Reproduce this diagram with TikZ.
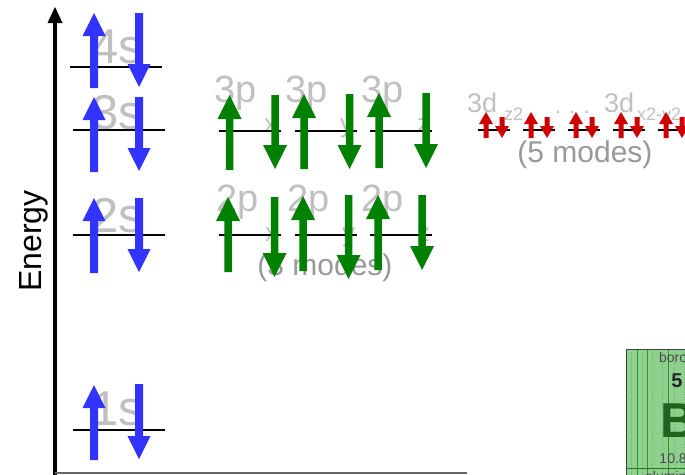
\documentclass[tikz,border=0pt]{standalone}
\usepackage{fontspec}
\setmainfont{Liberation Sans}
\definecolor{sblue}{RGB}{51,51,255}
\definecolor{sgreen}{RGB}{0,128,0}
\definecolor{sred}{RGB}{204,0,0}
\definecolor{lbl}{RGB}{192,192,192}
\definecolor{mdl}{RGB}{153,153,153}
\definecolor{cellbg}{RGB}{143,208,143}
\definecolor{celldk}{RGB}{45,150,45}
\definecolor{bgreen}{RGB}{30,100,30}
\newcommand\fs[1]{\fontsize{#1}{#1}\selectfont}
% #1 style, #2 x, #3 tail y, #4 tip y, #5 shaft w, #6 head w, #7 head len
\newcommand\arrUp[7]{\fill[#1] ({#2-#5/2},#3) -- ({#2-#5/2},{#4+#7}) -- ({#2-#6/2},{#4+#7}) -- (#2,#4) -- ({#2+#6/2},{#4+#7}) -- ({#2+#5/2},{#4+#7}) -- ({#2+#5/2},#3) -- cycle;}
\newcommand\arrDn[7]{\fill[#1] ({#2-#5/2},#3) -- ({#2-#5/2},{#4-#7}) -- ({#2-#6/2},{#4-#7}) -- (#2,#4) -- ({#2+#6/2},{#4-#7}) -- ({#2+#5/2},{#4-#7}) -- ({#2+#5/2},#3) -- cycle;}
\newcommand\bUp[3]{\arrUp{blueArr}{#1}{#2}{#3}{8}{23}{23}}
\newcommand\bDn[3]{\arrDn{blueArr}{#1}{#2}{#3}{8}{23}{23}}
\newcommand\gUp[3]{\arrUp{greenArr}{#1}{#2}{#3}{7.5}{24}{24}}
\newcommand\gDn[3]{\arrDn{greenArr}{#1}{#2}{#3}{7.5}{24}{24}}
\newcommand\rUp[3]{\arrUp{redArr}{#1}{#2}{#3}{5}{14}{12}}
\newcommand\rDn[3]{\arrDn{redArr}{#1}{#2}{#3}{5}{14}{12}}
\tikzset{
  blueArr/.style={fill=sblue},
  greenArr/.style={fill=sgreen},
  redArr/.style={fill=sred},
  levelline/.style={line width=2pt, black},
  slab/.style={text=lbl, inner sep=0pt, anchor=base west, font=\fs{49}},
  plab/.style={text=lbl, inner sep=0pt, anchor=base west, font=\fs{38}},
  psub/.style={text=lbl, inner sep=0pt, anchor=base west, font=\fs{26}},
  dlab/.style={text=lbl, inner sep=0pt, anchor=base west, font=\fs{27}},
  dsub/.style={text=lbl, inner sep=0pt, anchor=base west, font=\fs{18}},
  modes/.style={text=mdl, inner sep=0pt, anchor=base, font=\fs{30}},
  celltxt/.style={inner sep=0pt, anchor=base},
}
\begin{document}
\begin{tikzpicture}[x=1pt,y=-1pt]
\clip (0,0) rectangle (685,474);
\fill[white] (0,0) rectangle (685,474);
% periodic table cell fragment
\fill[cellbg] (626,349) rectangle (760,490);
\foreach \xx in {631,642,652,662,674,684}{
  \draw[celldk!70, line width=0.5pt, dotted] (\xx,349) -- (\xx,490);}
\foreach \xx in {637,647,668}{
  \draw[celldk, line width=0.6pt] (\xx,349) -- (\xx,490);}
\draw[celldk!80!black, line width=0.8pt] (626,468) -- (760,468);
\draw[black!75, line width=1pt] (626,490) -- (626,349) -- (760,349);
\node[celltxt, text=black!70, font=\fs{14}] (cname) at (677,362) {boron};
\node[celltxt, text=black!85, font=\bfseries\fs{20}] (cnum) at (677,387) {5};
\node[celltxt, text=bgreen, font=\bfseries\fs{49}] (csym) at (678,437) {B};
\node[celltxt, text=black!70, font=\fs{14}] (cmass) at (677,463) {10.81};
\node[celltxt, text=black!70, font=\fs{14}] (cnext) at (677,481) {aluminium};
% axes
\coordinate (axbot) at (55,476);
\coordinate (axtop) at (55,21);
\coordinate (xend) at (467,473);
\draw[line width=3.5pt] (axbot) -- (axtop);
\fill (55,7) -- (62.5,23) -- (47.5,23) -- cycle;
\draw[black!60, line width=2pt] (axbot |- xend) -- (xend);
\node[rotate=90, anchor=base, inner sep=0pt, font=\fs{32}] (energy) at (41,241) {Energy};
% labels
\node[slab] (l4s) at (91,63) {4s};
\node[slab] (l3s) at (91,129) {3s};
\node[slab] (l2s) at (91,232) {2s};
\node[slab] (l1s) at (91,425) {1s};
\node[plab] (l3px) at (214,102) {3p};
\node[psub] (s3px) at (264,132) {x};
\node[plab] (l3py) at (285,102) {3p};
\node[psub] (s3py) at (340,132) {y};
\node[plab] (l3pz) at (361,102) {3p};
\node[psub] (s3pz) at (417,132) {z};
\node[plab] (l2px) at (216,211) {2p};
\node[psub] (s2px) at (265,241) {x};
\node[plab] (l2py) at (287,211) {2p};
\node[psub] (s2py) at (342,241) {y};
\node[plab] (l2pz) at (361,211) {2p};
\node[psub] (s2pz) at (417,241) {z};
\node[dlab] (l3da) at (467,112) {3d};
\node[dsub] (s3da) at (504,120) {z2};
\node[dlab, font=\fs{22}] (ddots) at (555,113) {. . .};
\node[dlab] (l3db) at (604,112) {3d};
\node[dsub] (s3db) at (637,120) {x2-y2};
\node[modes] (m3d) at (585,162) {(5 modes)};
\node[modes] (m2p) at (325,275) {(3 modes)};
% level lines
\draw[levelline] (70,67) -- (162,67);
\draw[levelline] (73,130) -- (165,130);
\draw[levelline] (73,235) -- (165,235);
\draw[levelline] (73,430) -- (165,430);
\foreach \xa in {219,295,370}{
  \draw[levelline] (\xa,130.5) -- (\xa+62,130.5);
  \draw[levelline] (\xa,235) -- (\xa+62,235);}
\foreach \xa in {478,523,568,613,658}{
  \draw[levelline] (\xa,129.5) -- (\xa+32,129.5);}
% blue arrows
\bUp{94}{88}{13}   \bDn{139}{13}{87}
\bUp{94}{172}{97}  \bDn{139}{97}{171}
\bUp{94}{273}{198} \bDn{139}{198}{272}
\bUp{94}{460}{385} \bDn{139}{384}{459}
% green arrows 3p
\gUp{229.5}{170}{95} \gDn{275}{95}{169}
\gUp{304}{169}{94}   \gDn{349.5}{94}{169}
\gUp{379}{168}{93}   \gDn{426}{93}{168}
% green arrows 2p
\gUp{228}{272}{197} \gDn{274.5}{197}{277}
\gUp{303}{271}{196} \gDn{348.5}{195}{279}
\gUp{378}{270}{195} \gDn{422}{195}{270}
% red arrows 3d
\foreach \k in {0,...,4}{
  \pgfmathsetmacro\xu{486+45*\k}
  \pgfmathsetmacro\xd{502+45*\k}
  \rUp{\xu}{138}{112}
  \rDn{\xd}{117}{138}
}
\end{tikzpicture}
\end{document}
